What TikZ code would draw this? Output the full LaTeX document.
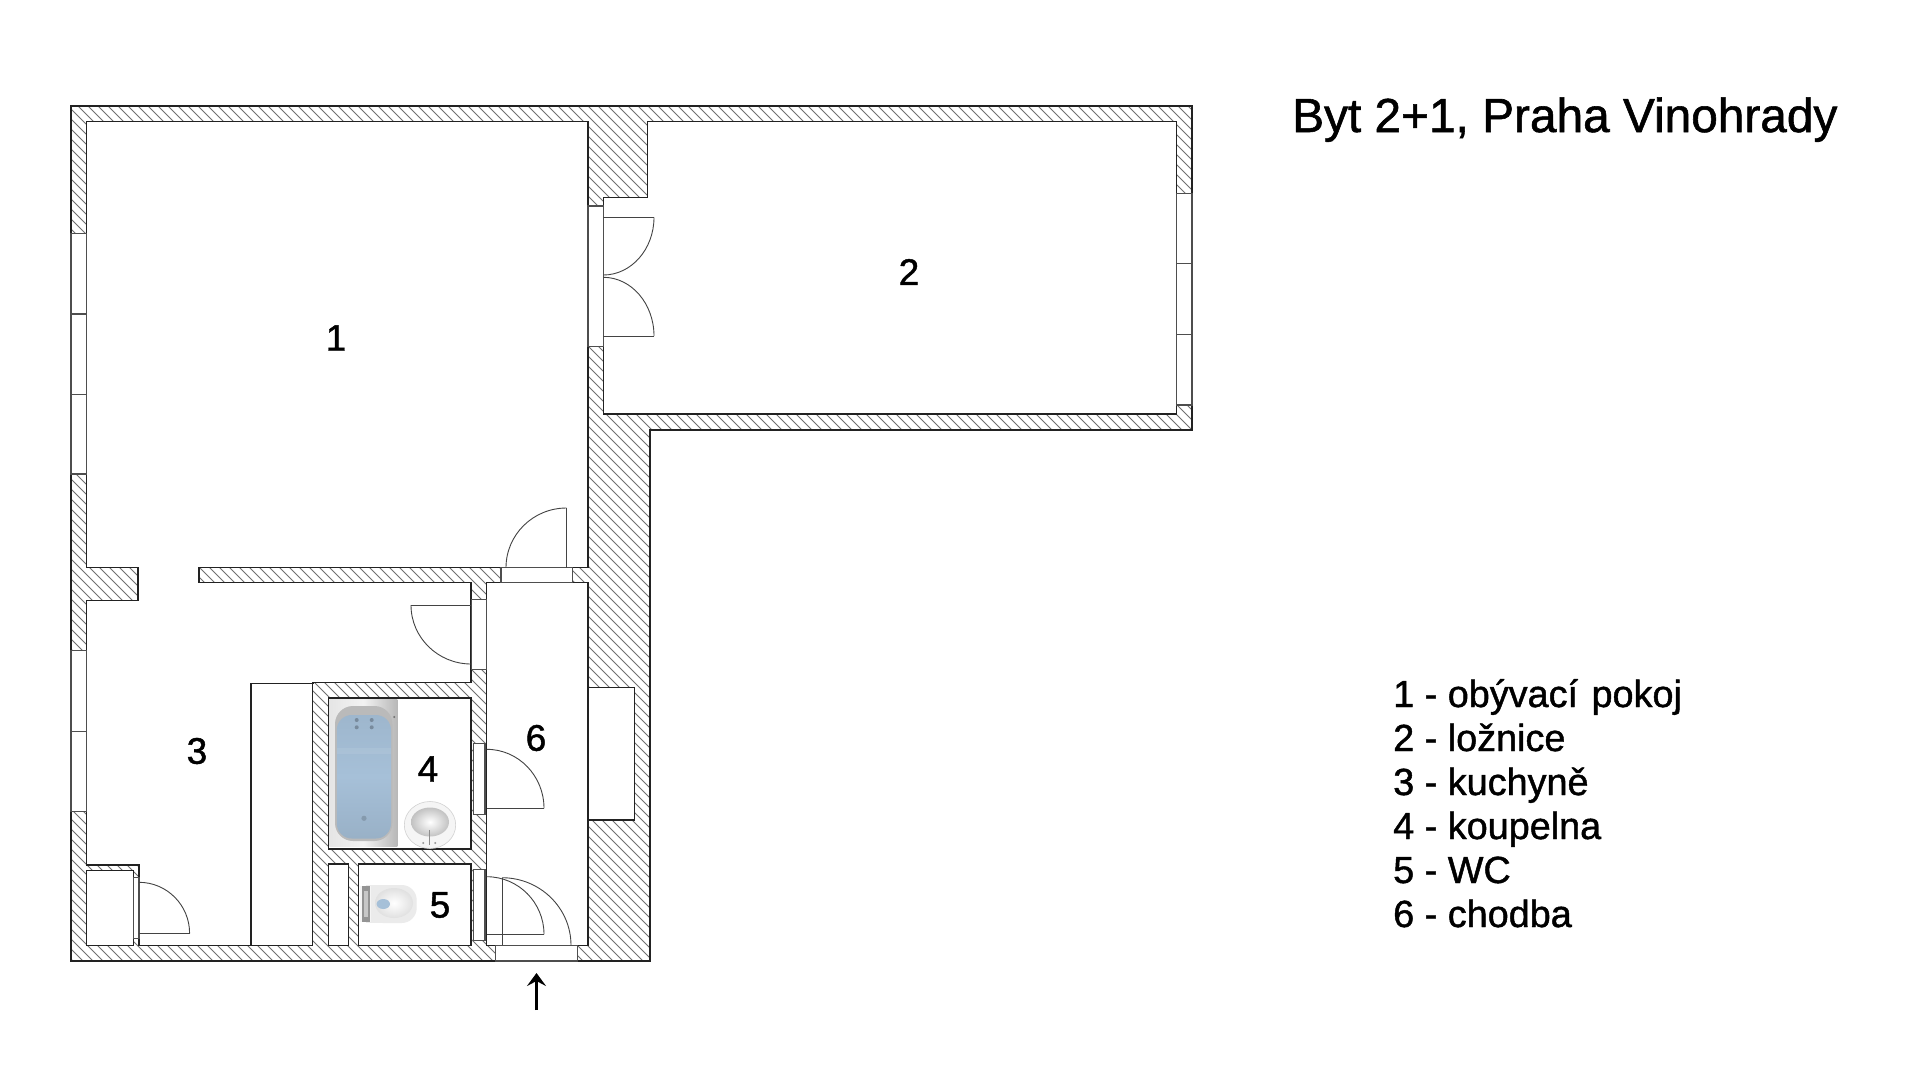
\documentclass[tikz,border=0pt]{standalone}
\usepackage{fontspec}
\setmainfont{Liberation Sans}
\newfontfamily\heavy[FakeBold=1.2]{Liberation Sans}
\usetikzlibrary{arrows.meta}
\definecolor{wallline}{HTML}{222222}
\definecolor{hatchc}{HTML}{707070}
\definecolor{bathblue}{HTML}{A6C0D8}
\tikzset{
  room/.style={fill=white,draw=wallline,line width=1.5pt,line join=miter},
  frame/.style={fill=white,draw=wallline!80,line width=1.1pt},
  leaf/.style={draw=wallline!85,line width=0.9pt},
  roomno/.style={font=\heavy\fontsize{37}{37}\selectfont,inner sep=0pt},
  legend/.style={font=\heavy\fontsize{37.8}{37.8}\selectfont,anchor=base west,inner sep=0pt},
}
\newcommand{\arcHV}[4]{% starts horizontally at (#1,#2), ends vertically at (#3,#4)
  \pgfmathsetmacro{\cax}{#1+0.5523*(#3-#1)}
  \pgfmathsetmacro{\cby}{#4-0.5523*(#4-#2)}
  \draw[leaf] (#1,#2) .. controls (\cax,#2) and (#3,\cby) .. (#3,#4);
}
\begin{document}
\begin{tikzpicture}[x=1pt,y=-1pt]
\useasboundingbox (0,0) rectangle (1920,1080);
\fill[white] (0,0) rectangle (1920,1080);
% wall body
\begin{scope}
\clip (71,106) -- (1192,106) -- (1192,430) -- (650,430) -- (650,961) -- (71,961) -- cycle;
\foreach \k in {-100,...,130} {
  \draw[hatchc,line width=1pt] ({\k*10+2},100) -- ({\k*10+902},1000);
}
\end{scope}
\draw[wallline,line width=1.2pt] (71,106) -- (1192,106) -- (1192,430) -- (650,430) -- (650,961) -- (71,961) -- cycle;
% rooms
\draw[room] (86.7,121.7) -- (588,121.7) -- (588,567.7) -- (199,567.7) -- (199,582.7) -- (471.2,582.7) -- (471.2,682.7) -- (313,682.7) -- (313,683.3) -- (250.8,683.3) -- (250.8,945.3) -- (139,945.3) -- (139,865) -- (86.7,865) -- (86.7,600.7) -- (138,600.7) -- (138,567.7) -- (86.7,567.7) -- cycle;
\draw[room] (647.3,121.7) -- (1176.7,121.7) -- (1176.7,414) -- (603.3,414) -- (603.3,197.3) -- (647.3,197.3) -- cycle;
\draw[room] (250.8,683.3) rectangle (312.4,945.3);
\draw[room] (486.7,582.7) rectangle (588,945.3);
\draw[room] (328.4,698) rectangle (471.2,849);
\draw[room] (358.6,864) rectangle (471.2,945.3);
\draw[room] (328.4,864) rectangle (348.4,945.3);
\draw[room] (86.7,870.7) rectangle (133.7,945.3);
\draw[room] (588,687.7) rectangle (634.5,820);
% windows
\draw[frame] (71,233.3) rectangle (86.7,314);
\draw[frame] (71,314) rectangle (86.7,394.3);
\draw[frame] (71,394.3) rectangle (86.7,474);
\draw[frame] (71,650.3) rectangle (86.7,731.7);
\draw[frame] (71,731.7) rectangle (86.7,811.7);
\draw[frame] (1176.7,193.3) rectangle (1192,263.7);
\draw[frame] (1176.7,263.7) rectangle (1192,334.3);
\draw[frame] (1176.7,334.3) rectangle (1192,405);
% door openings
\draw[frame] (588,206) rectangle (603.3,346.7);
\draw[frame] (501,567.7) rectangle (572.4,582.7);
\draw[frame] (471.2,599.3) rectangle (486.7,669.3);
\draw[frame] (473.5,743.3) rectangle (485,814.3);
\draw[frame] (473.5,869.3) rectangle (485,940.7);
\draw[frame] (133.7,877.3) rectangle (139,938.3);
\draw[frame] (495.7,945.3) rectangle (577.3,961);
% door leaves and swings
\draw[leaf] (603.3,217.3) -- (654,217.3);
\arcHV{603.3}{275}{654}{217.3}
\draw[leaf] (603.3,336) -- (654,336);
\arcHV{603.3}{277.3}{654}{336}
\draw[leaf] (566.5,508) -- (566.5,567.7);
\arcHV{566.5}{508}{506}{567.7}
\draw[leaf] (471.2,605) -- (411,605);
\arcHV{471.2}{664}{411}{605}
\draw[leaf] (486.7,808.3) -- (544,808.3);
\arcHV{486.7}{749.3}{544}{808.3}
\draw[leaf] (486.7,934.3) -- (544,934.3);
\arcHV{486.7}{876.7}{544}{934.3}
\draw[leaf] (502,877.7) -- (502,945.3);
\arcHV{502}{877.7}{571}{945.3}
\draw[leaf] (139,933.3) -- (189.6,933.3);
\arcHV{139}{882.3}{189.6}{933.3}
% bath
\shade[left color=black!10,right color=black!28,middle color=black!5] (329.7,699.7) rectangle (397.3,846.7);
\fill[black!27,rounded corners=18pt] (335,706) rectangle (392.5,841);
\begin{scope}
\clip[rounded corners=15pt] (336.8,715) rectangle (391,838.5);
\shade[top color=bathblue!95!black,bottom color=bathblue!92!black,middle color=bathblue] (336.8,715) rectangle (391,838.5);
\fill[white,opacity=0.08] (336.8,748) rectangle (391,754);
\end{scope}
\fill[bathblue!72!black] (356.7,720) circle (2) (371.7,720) circle (2) (356.7,727.3) circle (2) (371.7,727.3) circle (2);
\fill[bathblue!80!black] (364,818.3) circle (2.6);
\fill[black!55] (394.3,717) circle (1.1);
% basin
\fill[black!4] (430,825) ellipse [x radius=25.7,y radius=23.5];
\draw[black!18,line width=0.6pt] (430,825) ellipse [x radius=25.7,y radius=23.5];
\shade[inner color=white,outer color=black!24] (430,822) ellipse [x radius=19,y radius=14.5];
\draw[black!45,line width=1.4pt] (429.3,830) -- (429.3,845);
\fill[black!40] (423.3,843) circle (1.1) (435.3,843) circle (1.1);
% toilet
\fill[black!8,rounded corners=15pt] (368,885) -- (416.7,885) -- (416.7,923) -- (368,923) -- cycle;
\fill[black!8] (366,885) rectangle (390,923);
\shade[inner color=white,outer color=black!12] (394,903) ellipse [x radius=19,y radius=15];
\fill[black!4] (360,886) rectangle (371,922);
\fill[black!42] (361.7,886) rectangle (370,922);
\fill[black!22] (364,891) rectangle (367.5,917);
\fill[bathblue] (383.3,904) ellipse [x radius=6.7,y radius=5];
% arrow
\coordinate (arrowfrom) at (536.5,1010);
\coordinate (arrowto) at (536.5,973);
\draw[black,line width=2.3pt,-{Stealth[length=13pt,width=19pt,inset=5pt]}] (arrowfrom) -- (arrowto);
% room numbers
\node[roomno] (n1) at (336,338) {1};
\node[roomno] (n2) at (909,272) {2};
\node[roomno] (n3) at (197,751) {3};
\node[roomno] (n4) at (428,769) {4};
\node[roomno] (n5) at (440,905) {5};
\node[roomno] (n6) at (536,738) {6};
% title
\node[anchor=base west,inner sep=0pt,font=\heavy\fontsize{47.8}{47.8}\selectfont] (title) at (1292,132) {Byt 2+1, Praha Vinohrady};
% legend
\node[legend] (l1) at (1393,707) {1 - obývací\hspace{3pt} pokoj};
\node[legend] (l2) at (1393,751) {2 - ložnice};
\node[legend] (l3) at (1393,795) {3 - kuchyně};
\node[legend] (l4) at (1393,839) {4 - koupelna};
\node[legend] (l5) at (1393,883) {5 - WC};
\node[legend] (l6) at (1393,927) {6 - chodba};
\end{tikzpicture}
\end{document}
